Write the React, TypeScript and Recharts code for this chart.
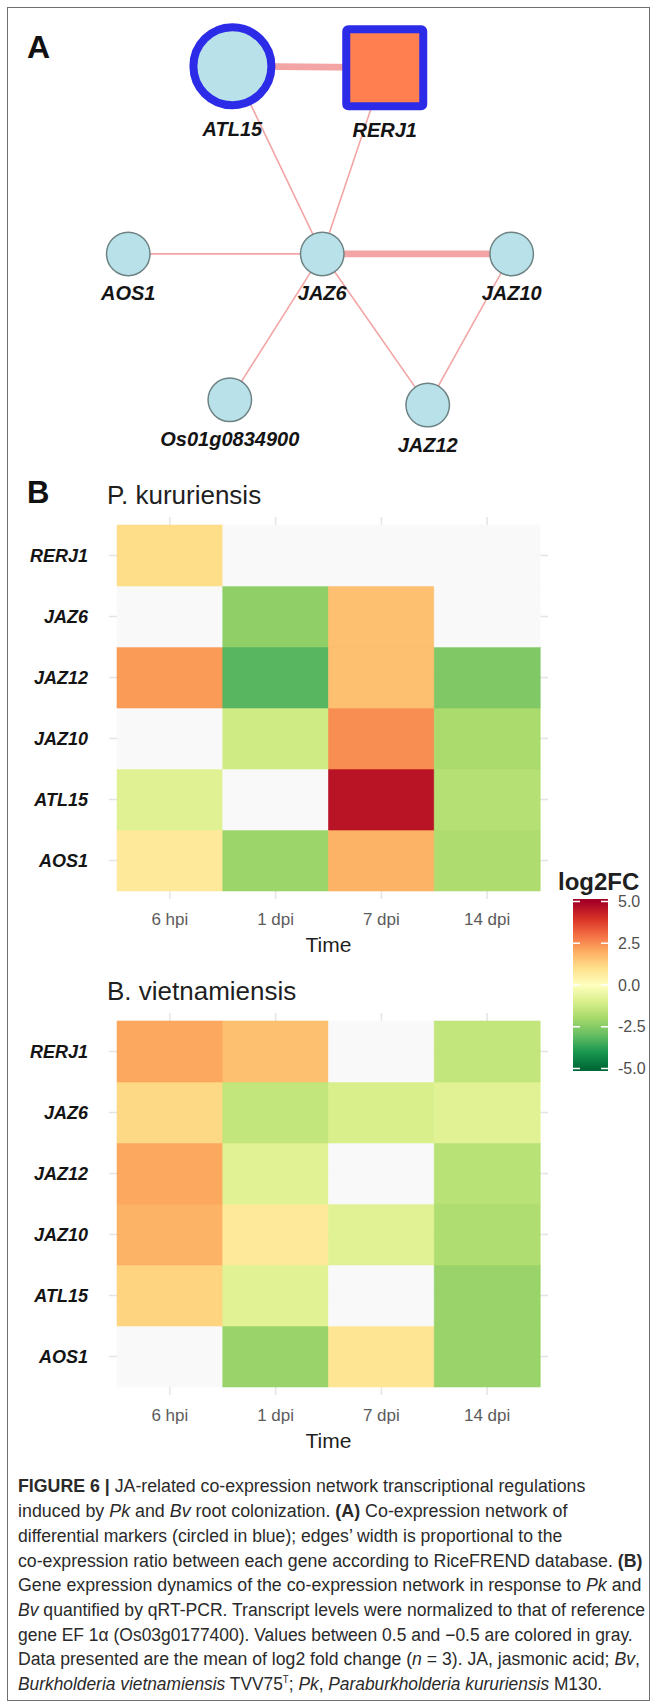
import React from 'react';
import { ScatterChart, Scatter, XAxis, YAxis, BarChart, Bar, Cell, CartesianGrid, ReferenceLine } from 'recharts';

// ---------------- Panel A: co-expression network ----------------
const nodeNames = ['ATL15', 'RERJ1', 'AOS1', 'JAZ6', 'JAZ10', 'Os01g0834900', 'JAZ12'];
const nodeLayoutX = [35.7, 59.1, 19.7, 49.5, 78.6, 35.3, 65.7];
const nodeLayoutY = [13.8, 14.1, 52.9, 52.9, 52.9, 83.3, 84.4];
const nodeDifferentialMarker = [true, true, false, false, false, false, false];
const nodeShapeKind = ['circle', 'square', 'circle', 'circle', 'circle', 'circle', 'circle'];

const edgeSource = ['ATL15', 'ATL15', 'RERJ1', 'JAZ6', 'JAZ6', 'JAZ6', 'JAZ6', 'JAZ10'];
const edgeTarget = ['RERJ1', 'JAZ6', 'JAZ6', 'AOS1', 'JAZ10', 'Os01g0834900', 'JAZ12', 'JAZ12'];
const edgeCoexpressionRatio = [0.85, 0.2, 0.2, 0.2, 0.85, 0.2, 0.2, 0.2];

// ---------------- Panel B: heatmaps ----------------
const times = ['6 hpi', '1 dpi', '7 dpi', '14 dpi'];
const genes = ['RERJ1', 'JAZ6', 'JAZ12', 'JAZ10', 'ATL15', 'AOS1']; // top to bottom
// log2FC; 0 marks values inside +-0.5 (drawn grey)
const pkRERJ1 = [1.05, 0, 0, 0];
const pkJAZ6 = [0, -2.35, 1.65, 0];
const pkJAZ12 = [2.3, -3.2, 1.65, -2.6];
const pkJAZ10 = [0, -1.2, 2.5, -1.9];
const pkATL15 = [-0.85, 0, 4.6, -1.7];
const pkAOS1 = [0.7, -2.15, 1.9, -1.85];

const bvRERJ1 = [2.1, 1.65, 0, -1.45];
const bvJAZ6 = [1.15, -1.45, -1.0, -0.8];
const bvJAZ12 = [2.1, -0.8, 0, -1.65];
const bvJAZ10 = [1.9, 0.7, -0.8, -1.8];
const bvATL15 = [1.25, -0.8, 0, -2.2];
const bvAOS1 = [0, -2.2, 0.85, -2.2];

const legendTicks = [5, 2.5, 0, -2.5, -5];
const legendLimits = [-5.15, 5.15];

// ---------------- styles ----------------
const FONT = '"Liberation Sans", Arial, Helvetica, sans-serif';
const paletteStops = [-5, -4, -3, -2, -1, 0, 1, 2, 3, 4, 5];
const paletteColors = ['#006837', '#1a9850', '#66bd63', '#a6d96a', '#d9ef8b', '#ffffbf', '#fee08b', '#fdae61', '#f46d43', '#d73027', '#a50026'];
const GREY_TILE = '#f9f9f9';

function hexToRgb(h: string) {
  const n = parseInt(h.slice(1), 16);
  return [(n >> 16) & 255, (n >> 8) & 255, n & 255];
}
function paletteColor(v: number) {
  const c = Math.max(-5, Math.min(5, v));
  for (let i = 0; i < paletteStops.length - 1; i++) {
    if (c >= paletteStops[i] && c <= paletteStops[i + 1]) {
      const t = (c - paletteStops[i]) / (paletteStops[i + 1] - paletteStops[i]);
      const a = hexToRgb(paletteColors[i]);
      const b = hexToRgb(paletteColors[i + 1]);
      const m = a.map((x, k) => Math.round(x + (b[k] - x) * t));
      return `rgb(${m[0]},${m[1]},${m[2]})`;
    }
  }
  return paletteColors[paletteColors.length - 1];
}
function tileColor(v: number) {
  return Math.abs(v) < 0.5 ? GREY_TILE : paletteColor(v);
}

// ---------------- network ----------------
const nodes = nodeNames.map((name, i) => ({
  name,
  x: nodeLayoutX[i],
  y: nodeLayoutY[i],
  marker: nodeDifferentialMarker[i],
  kind: nodeShapeKind[i],
}));
const nodeByName: Record<string, any> = {};
nodes.forEach((n) => (nodeByName[n.name] = n));

function NodeShape(props: any) {
  const { cx, cy, payload } = props;
  if (cx == null || cy == null) return <g />;
  const big = payload.marker;
  const isSquare = payload.kind === 'square';
  const outer = big ? (isSquare ? 42.5 : 43) : 22.5;
  const sw = big ? 8 : 1.5;
  const stroke = big ? '#2b2be8' : '#6d8283';
  const fill = isSquare ? '#ff7f50' : '#b9e1e9';
  const shapeEl = isSquare ? (
    <rect x={cx - outer + sw / 2} y={cy - outer + sw / 2} width={2 * outer - sw} height={2 * outer - sw} rx={2} fill={fill} stroke={stroke} strokeWidth={sw} />
  ) : (
    <circle cx={cx} cy={cy} r={outer - sw / 2} fill={fill} stroke={stroke} strokeWidth={sw} />
  );
  return (
    <g>
      {shapeEl}
      <text x={cx} y={cy + outer + (big ? 20 : 17)} dy="0.35em" textAnchor="middle" fontFamily={FONT} fontWeight="bold" fontStyle="italic" fontSize={20} fill="#141414">
        {payload.name}
      </text>
    </g>
  );
}

function Network() {
  return (
    <div style={{ position: 'absolute', left: 0, top: 0 }}>
      <ScatterChart width={651} height={480} margin={{ top: 0, right: 0, bottom: 0, left: 0 }}>
        <XAxis type="number" dataKey="x" domain={[0, 100]} hide />
        <YAxis type="number" dataKey="y" domain={[0, 100]} reversed hide />
        {edgeSource.map((s, i) => (
          <Scatter
            key={'e' + i}
            data={[nodeByName[s], nodeByName[edgeTarget[i]]]}
            line={{ stroke: '#f3a5a5', strokeWidth: edgeCoexpressionRatio[i] * 8 }}
            shape={() => <g />}
            isAnimationActive={false}
          />
        ))}
        <Scatter data={nodes} shape={NodeShape} isAnimationActive={false} />
      </ScatterChart>
    </div>
  );
}

// ---------------- heatmap ----------------
function Heatmap({ top, rows }: { top: number; rows: Record<string, number[]> }) {
  const table = times.map((t, i) => {
    const r: Record<string, any> = { time: t };
    genes.forEach((g) => {
      r[g] = rows[g][i];
      r['cell_' + g] = 1;
    });
    return r;
  });
  const bottomUp = [...genes].reverse();
  return (
    <div style={{ position: 'absolute', left: 0, top }}>
      <BarChart width={651} height={469} data={table} margin={{ top: 17, right: 103, bottom: 40, left: 9 }} barCategoryGap={0} barGap={0}>
        <CartesianGrid stroke="#e4e4e4" strokeWidth={1.5} syncWithTicks />
        <XAxis
          dataKey="time"
          type="category"
          padding={{ left: 8, right: 8 }}
          tickLine={false}
          axisLine={false}
          tickSize={0}
          tickMargin={14}
          height={30}
          interval={0}
          tick={{ fill: '#5c5c5c', fontSize: 17, fontFamily: FONT }}
          label={{ value: 'Time', position: 'bottom', offset: 8, fill: '#1f1f1f', fontSize: 21, fontFamily: FONT }}
        />
        <YAxis
          type="number"
          domain={[-0.131, 6.131]}
          ticks={[0.5, 1.5, 2.5, 3.5, 4.5, 5.5]}
          tickFormatter={(v: number) => bottomUp[Math.floor(v)]}
          width={100}
          tickLine={false}
          axisLine={false}
          tickSize={0}
          tickMargin={21}
          interval={0}
          allowDataOverflow
          tick={{ fill: '#141414', fontSize: 18, fontWeight: 'bold', fontStyle: 'italic', fontFamily: FONT }}
        />
        {bottomUp.map((g) => (
          <Bar key={g} dataKey={'cell_' + g} stackId="tiles" isAnimationActive={false}>
            {table.map((r, i) => (
              <Cell key={i} fill={tileColor(r[g])} stroke={tileColor(r[g])} strokeWidth={0.6} />
            ))}
          </Bar>
        ))}
      </BarChart>
    </div>
  );
}

function Legend() {
  const data = [{ key: 'log2FC', span: legendLimits }];
  return (
    <div style={{ position: 'absolute', left: 573, top: 889 }}>
      <BarChart width={80} height={192} data={data} margin={{ top: 10, right: 0, bottom: 10, left: 0 }} barCategoryGap={0} barGap={0}>
        <XAxis dataKey="key" type="category" hide />
        <YAxis
          orientation="right"
          type="number"
          domain={legendLimits}
          ticks={legendTicks}
          interval={0}
          allowDataOverflow
          tickFormatter={(v: number) => v.toFixed(1)}
          width={45}
          tickLine={false}
          axisLine={false}
          tickSize={0}
          tickMargin={10}
          tick={{ fill: '#505050', fontSize: 16, fontFamily: FONT }}
        />
        <Bar dataKey="span" fill="url(#log2fcGradient)" isAnimationActive={false} />
        {legendTicks.map((t) => (
          <ReferenceLine key={t} y={t} stroke="#ffffff" strokeWidth={1.3} strokeDasharray="7 21 7" />
        ))}
      </BarChart>
    </div>
  );
}

const captionLines: React.ReactNode[] = [
  <><b>FIGURE 6 |</b> JA-related co-expression network transcriptional regulations</>,
  <>induced by <i>Pk</i> and <i>Bv</i> root colonization. <b>(A)</b> Co-expression network of</>,
  <>differential markers (circled in blue); edges’ width is proportional to the</>,
  <>co-expression ratio between each gene according to RiceFREND database. <b>(B)</b></>,
  <>Gene expression dynamics of the co-expression network in response to <i>Pk</i> and</>,
  <><i>Bv</i> quantified by qRT-PCR. Transcript levels were normalized to that of reference</>,
  <>gene EF 1α (Os03g0177400). Values between 0.5 and −0.5 are colored in gray.</>,
  <>Data presented are the mean of log2 fold change (<i>n</i> = 3). JA, jasmonic acid; <i>Bv</i>,</>,
  <><i>Burkholderia vietnamiensis</i> TVV75<span style={{ fontSize: 10, position: 'relative', top: -7 }}>T</span>; <i>Pk</i>, <i>Paraburkholderia kururiensis</i> M130.</>,
];
const captionRight = [585, 567, 562, 642, 641, 645, 633, 640, 602];

function CaptionLine({ children, top, width }: { children: React.ReactNode; top: number; width: number }) {
  const ref = React.useRef<HTMLSpanElement>(null);
  const [k, setK] = React.useState(0.9);
  React.useLayoutEffect(() => {
    if (ref.current) {
      const w = ref.current.offsetWidth;
      if (w > 0) setK(width / w);
    }
  }, [width]);
  return (
    <span
      ref={ref}
      style={{
        position: 'absolute',
        left: 18,
        top,
        whiteSpace: 'nowrap',
        fontFamily: FONT,
        fontSize: 18,
        lineHeight: '24.7px',
        color: '#2a2a2a',
        transform: `scaleX(${k})`,
        transformOrigin: '0 0',
      }}
    >
      {children}
    </span>
  );
}

export default function App() {
  const pkRows = { RERJ1: pkRERJ1, JAZ6: pkJAZ6, JAZ12: pkJAZ12, JAZ10: pkJAZ10, ATL15: pkATL15, AOS1: pkAOS1 };
  const bvRows = { RERJ1: bvRERJ1, JAZ6: bvJAZ6, JAZ12: bvJAZ12, JAZ10: bvJAZ10, ATL15: bvATL15, AOS1: bvAOS1 };
  const span = legendLimits[1] - legendLimits[0];
  return (
    <div style={{ position: 'absolute', left: 0, top: 0, width: 651, height: 1708, background: '#ffffff', overflow: 'hidden' }}>
      <svg width={0} height={0} style={{ position: 'absolute' }}>
        <defs>
          <linearGradient id="log2fcGradient" x1="0" y1="0" x2="0" y2="1">
            {paletteStops
              .map((v, i) => ({ v, c: paletteColors[i] }))
              .reverse()
              .map(({ v, c }) => (
                <stop key={v} offset={(legendLimits[1] - v) / span} stopColor={c} />
              ))}
          </linearGradient>
        </defs>
      </svg>
      <div style={{ position: 'absolute', left: 7, top: 7, width: 643, height: 1694, boxSizing: 'border-box', border: '1.5px solid #6f6f6f' }} />
      <Network />
      <Heatmap top={500} rows={pkRows} />
      <Heatmap top={996} rows={bvRows} />
      <Legend />
      <svg width={651} height={1460} style={{ position: 'absolute', left: 0, top: 0, pointerEvents: 'none' }} fontFamily={FONT}>
        <text x={27} y={58} fontSize={32} fontWeight="bold" fill="#111">A</text>
        <text x={27} y={503} fontSize={31} fontWeight="bold" fill="#111">B</text>
        <text x={107} y={504} fontSize={26} fill="#1f1f1f">P. kururiensis</text>
        <text x={107} y={1000} fontSize={26} fill="#1f1f1f">B. vietnamiensis</text>
        <text x={558} y={890} fontSize={24} fontWeight="bold" fill="#1f1f1f">log2FC</text>
      </svg>
      {captionLines.map((line, i) => (
        <CaptionLine key={i} top={1474.4 + 24.7 * i} width={captionRight[i] - 18}>
          {line}
        </CaptionLine>
      ))}
    </div>
  );
}
